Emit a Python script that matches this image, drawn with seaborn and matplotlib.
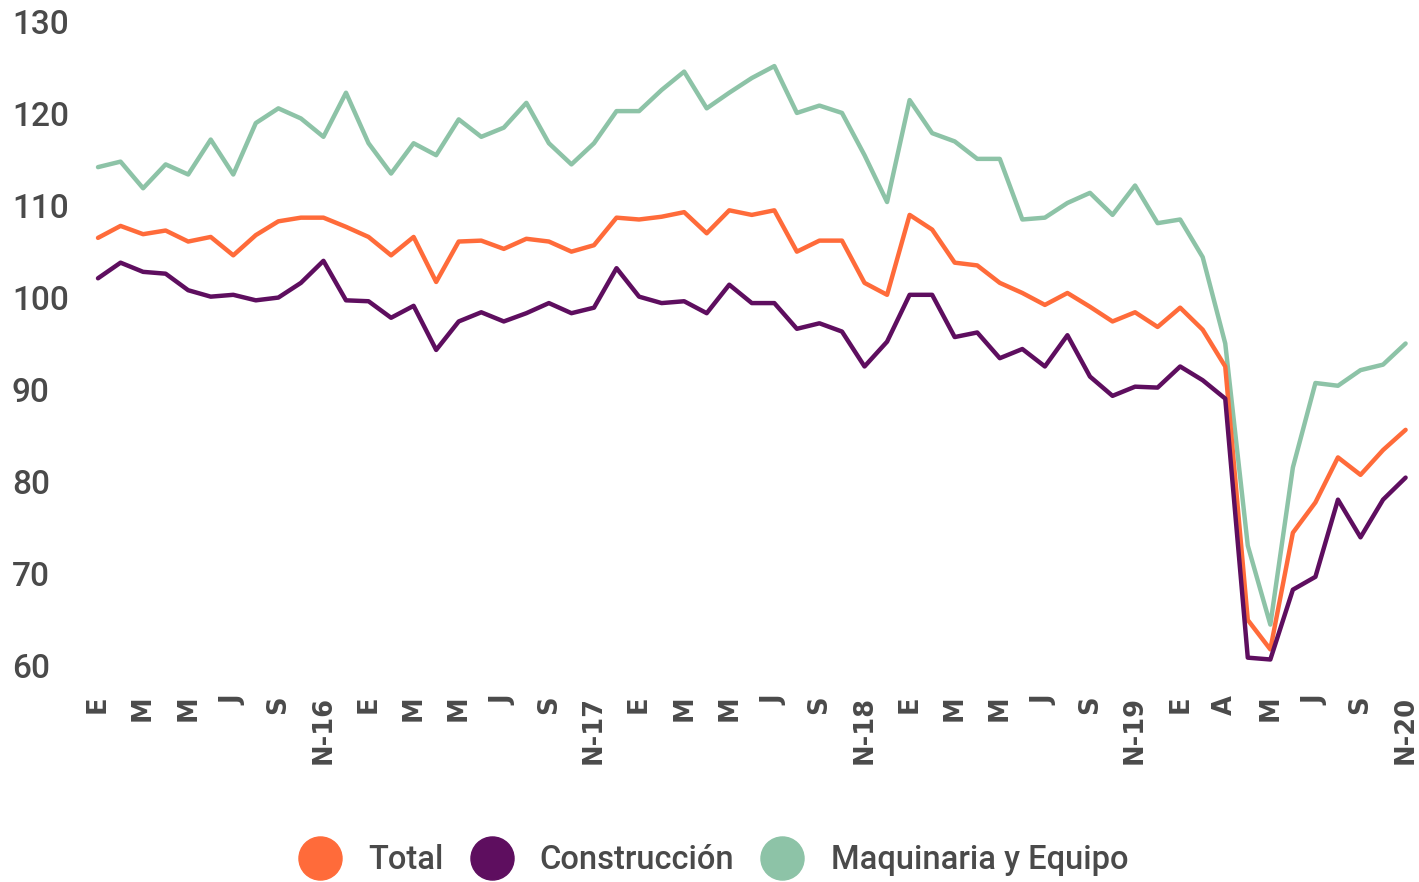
import numpy as np
import pandas as pd
import seaborn as sns
import matplotlib.pyplot as plt
from matplotlib.lines import Line2D

# monthly index, Jan 2016 .. Nov 2020
meses = list(range(59))
etiquetas = ['E', 'M', 'M', 'J', 'S', 'N-16',
             'E', 'M', 'M', 'J', 'S', 'N-17',
             'E', 'M', 'M', 'J', 'S', 'N-18',
             'E', 'M', 'M', 'J', 'S', 'N-19',
             'E', 'A', 'M', 'J', 'S', 'N-20']

total = [106.5, 107.8, 106.9, 107.3, 106.1, 106.6, 104.6, 106.8, 108.3, 108.7,
         108.7, 107.7, 106.6, 104.6, 106.6, 101.7, 106.1, 106.2, 105.3, 106.4,
         106.1, 105.0, 105.7, 108.7, 108.5, 108.8, 109.3, 107.0, 109.5, 109.0,
         109.5, 105.0, 106.2, 106.2, 101.6, 100.3, 109.0, 107.4, 103.8, 103.5,
         101.6, 100.5, 99.2, 100.5, 99.0, 97.4, 98.4, 96.8, 98.9, 96.5,
         92.5, 64.9, 61.7, 74.4, 77.7, 82.6, 80.7, 83.4, 85.6]

construccion = [102.1, 103.8, 102.8, 102.6, 100.8, 100.1, 100.3, 99.7, 100.0, 101.6,
                104.0, 99.7, 99.6, 97.8, 99.1, 94.3, 97.4, 98.4, 97.4, 98.3,
                99.4, 98.3, 98.9, 103.2, 100.1, 99.4, 99.6, 98.3, 101.4, 99.4,
                99.4, 96.6, 97.2, 96.3, 92.5, 95.2, 100.3, 100.3, 95.7, 96.2,
                93.4, 94.4, 92.5, 95.9, 91.4, 89.3, 90.3, 90.2, 92.5, 91.0,
                89.0, 60.8, 60.6, 68.2, 69.6, 78.0, 73.9, 78.0, 80.4]

maquinaria = [114.2, 114.8, 111.9, 114.5, 113.4, 117.2, 113.4, 119.0, 120.6, 119.5,
              117.5, 122.3, 116.8, 113.5, 116.8, 115.5, 119.4, 117.5, 118.5, 121.2,
              116.8, 114.5, 116.8, 120.3, 120.3, 122.6, 124.6, 120.6, 122.3, 123.9,
              125.2, 120.1, 120.9, 120.1, 115.5, 110.4, 121.5, 117.9, 117.0, 115.1,
              115.1, 108.5, 108.7, 110.3, 111.4, 109.0, 112.2, 108.1, 108.5, 104.4,
              95.0, 73.0, 64.4, 81.5, 90.7, 90.4, 92.1, 92.7, 95.0]

series = ['Total', 'Construcción', 'Maquinaria y Equipo']
colores = ['#FF6B3A', '#5E0E5F', '#8DC3A7']

df = pd.concat([
    pd.DataFrame({'mes': meses, 'valor': total, 'serie': 'Total'}),
    pd.DataFrame({'mes': meses, 'valor': construccion, 'serie': 'Construcción'}),
    pd.DataFrame({'mes': meses, 'valor': maquinaria, 'serie': 'Maquinaria y Equipo'}),
], ignore_index=True)

sns.set_style('white')
plt.rcParams['font.family'] = ['Roboto', 'DejaVu Sans']
gris = '#4a4a4a'

fig = plt.figure(figsize=(14.19, 8.82), dpi=100)
ax = fig.add_axes([98 / 1419, 1 - 665 / 882, (1405.6 - 98) / 1419, (665 - 22) / 882])

# draw Maquinaria first so it sits under the others at the crash
orden = ['Maquinaria y Equipo', 'Total', 'Construcción']
sns.lineplot(df, x='mes', y='valor', hue='serie', hue_order=orden,
             palette=dict(zip(series, colores)), linewidth=3.2, ax=ax, legend=False)
for line in ax.get_lines():
    line.set_solid_joinstyle('round')
    line.set_solid_capstyle('round')
    line.set_clip_on(False)

ax.set_xlim(0, 58)
ax.set_ylim(60, 130)
ax.set_xlabel('')
ax.set_ylabel('')
sns.despine(ax=ax, left=True, bottom=True)

ax.set_yticks(range(60, 131, 10))
ax.tick_params(axis='y', length=0, pad=62, labelsize=24, labelcolor=gris)
for t in ax.get_yticklabels():
    t.set_horizontalalignment('left')
    t.set_fontweight('medium')

ax.set_xticks(meses[::2])
ax.set_xticklabels(etiquetas, rotation=90, fontfamily='DejaVu Sans',
                   fontweight='bold', fontsize=18.5, color=gris)
ax.tick_params(axis='x', length=0, pad=22)

handles = [Line2D([], [], linestyle='none', marker='o', markersize=31,
                  markerfacecolor=c, markeredgecolor=c) for c in colores]
leg = fig.legend(handles, series, loc='center', bbox_to_anchor=(0.503, 1 - 860 / 882),
                 ncol=3, frameon=False, fontsize=23.5, labelcolor=gris,
                 handlelength=1.25, handletextpad=0.85, columnspacing=0.85)
for t in leg.get_texts():
    t.set_fontweight('medium')

fig.savefig('out.png', dpi=100)
